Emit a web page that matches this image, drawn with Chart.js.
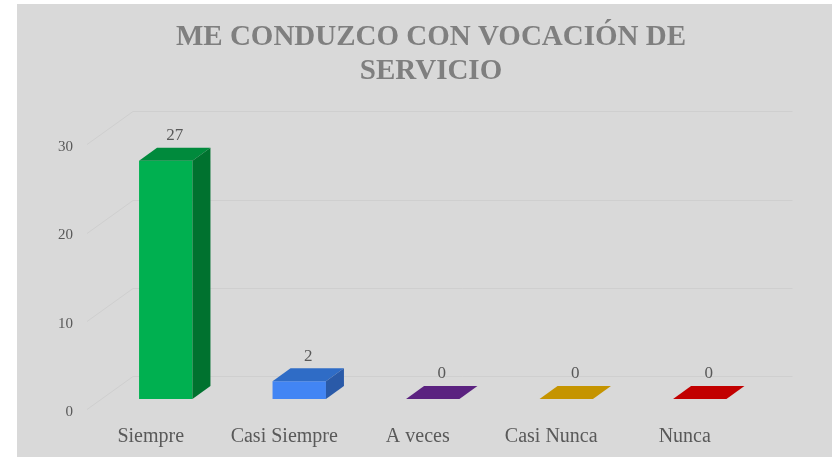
<!DOCTYPE html>
<html>
<head>
<meta charset="utf-8">
<title>Me conduzco con vocación de servicio</title>
<script src="https://cdn.jsdelivr.net/npm/chart.js@4/dist/chart.umd.min.js"></script>
<style>
  html, body { margin: 0; padding: 0; background: #fff; }
  #wrap { position: relative; width: 832px; height: 457px; }
</style>
</head>
<body>
<div id="wrap"><canvas id="bar-chart"></canvas></div>
<script>
// data
var categories = ["Siempre", "Casi Siempre", "A veces", "Casi Nunca", "Nunca"];
var respuestas = [27, 2, 0, 0, 0];
var yMax = 30;
var yStep = 10;

// colours for front / top / side faces
var frontColors = ["#00b050", "#4285f4", "#6b2a99", "#d9a200", "#d40000"];
var topColors   = ["#008a3c", "#2f6cc6", "#5b2280", "#c59400", "#c20000"];
var sideColors  = ["#00722f", "#2a5aa8", "#4a1b6b", "#a57b00", "#a00000"];

var serif = "'Liberation Serif', 'Times New Roman', serif";

// fake 3D: depth of a bar, offset of the back wall, bars sit mid depth
var depth = { dx: 18, dy: -13 };
var wall  = { dx: 46, dy: -33 };
var shift = { dx: 15, dy: -10 };

var fake3d = {
  id: "fake3d",
  beforeDraw: function(chart) {
    var ctx = chart.ctx;
    ctx.save();
    ctx.fillStyle = "#d9d9d9";
    ctx.fillRect(17, 4, chart.width - 17, chart.height - 4);
    ctx.restore();
  },
  beforeDatasetsDraw: function(chart) {
    var ctx = chart.ctx, a = chart.chartArea, y = chart.scales.y;
    ctx.save();
    ctx.strokeStyle = "#cfcfcf";
    ctx.lineWidth = 1;
    y.ticks.forEach(function(t) {
      var py = Math.round(y.getPixelForValue(t.value)) + 0.5;
      ctx.beginPath();
      ctx.moveTo(a.left + 3, py);
      ctx.lineTo(a.left + 3 + wall.dx, py + wall.dy);
      ctx.lineTo(a.right + 41, py + wall.dy);
      ctx.stroke();
    });
    ctx.restore();
    ctx.save();
    ctx.translate(shift.dx, shift.dy);
  },
  afterDatasetsDraw: function(chart) {
    var ctx = chart.ctx;
    var meta = chart.getDatasetMeta(0);
    meta.data.forEach(function(bar, i) {
      var l = bar.x - bar.width / 2, r = bar.x + bar.width / 2;
      var top = bar.y, base = bar.base;
      // top face
      ctx.fillStyle = topColors[i];
      ctx.beginPath();
      ctx.moveTo(l, top);
      ctx.lineTo(r, top);
      ctx.lineTo(r + depth.dx, top + depth.dy);
      ctx.lineTo(l + depth.dx, top + depth.dy);
      ctx.closePath();
      ctx.fill();
      // side face
      if (base - top > 0.5) {
        ctx.fillStyle = sideColors[i];
        ctx.beginPath();
        ctx.moveTo(r, top);
        ctx.lineTo(r + depth.dx, top + depth.dy);
        ctx.lineTo(r + depth.dx, base + depth.dy);
        ctx.lineTo(r, base);
        ctx.closePath();
        ctx.fill();
      }
      // value label
      ctx.fillStyle = "#595959";
      ctx.font = "17px " + serif;
      ctx.textAlign = "center";
      ctx.textBaseline = "middle";
      ctx.fillText(String(respuestas[i]), bar.x + depth.dx / 2, top + depth.dy - 12);
    });
    ctx.restore();
  }
};

new Chart(document.getElementById("bar-chart"), {
  type: "bar",
  data: {
    labels: categories,
    datasets: [{
      data: respuestas,
      backgroundColor: frontColors,
      borderWidth: 0,
      barPercentage: 0.4,
      categoryPercentage: 1,
      clip: false
    }]
  },
  options: {
    responsive: true,
    maintainAspectRatio: false,
    devicePixelRatio: 1,
    animation: false,
    layout: { padding: { left: 30, right: 0, top: 0, bottom: 0 } },
    plugins: {
      legend: { display: false },
      tooltip: { enabled: false },
      title: {
        display: true,
        text: ["ME CONDUZCO CON VOCACIÓN DE", "SERVICIO"],
        color: "#7f7f7f",
        font: { family: serif, size: 29, weight: "bold", lineHeight: 1.16 },
        padding: { top: 21, bottom: 56 }
      }
    },
    scales: {
      x: {
        grid: { display: false, drawTicks: false },
        border: { display: false },
        ticks: { color: "#595959", font: { family: serif, size: 20 }, padding: 16 },
        afterFit: function(s) { s.height = 48; }
      },
      y: {
        min: 0,
        max: yMax,
        grid: { display: false, drawTicks: false },
        border: { display: false },
        ticks: { stepSize: yStep, color: "#595959", font: { family: serif, size: 15 }, padding: 11, labelOffset: 3 },
        afterFit: function(s) { s.width = 54; }
      },
      y2: {
        type: "linear",
        position: "right",
        min: 0,
        max: 1,
        grid: { display: false, drawTicks: false },
        border: { display: false },
        ticks: { display: false },
        afterFit: function(s) { s.width = 80.5; }
      }
    }
  },
  plugins: [fake3d]
});
</script>
</body>
</html>
